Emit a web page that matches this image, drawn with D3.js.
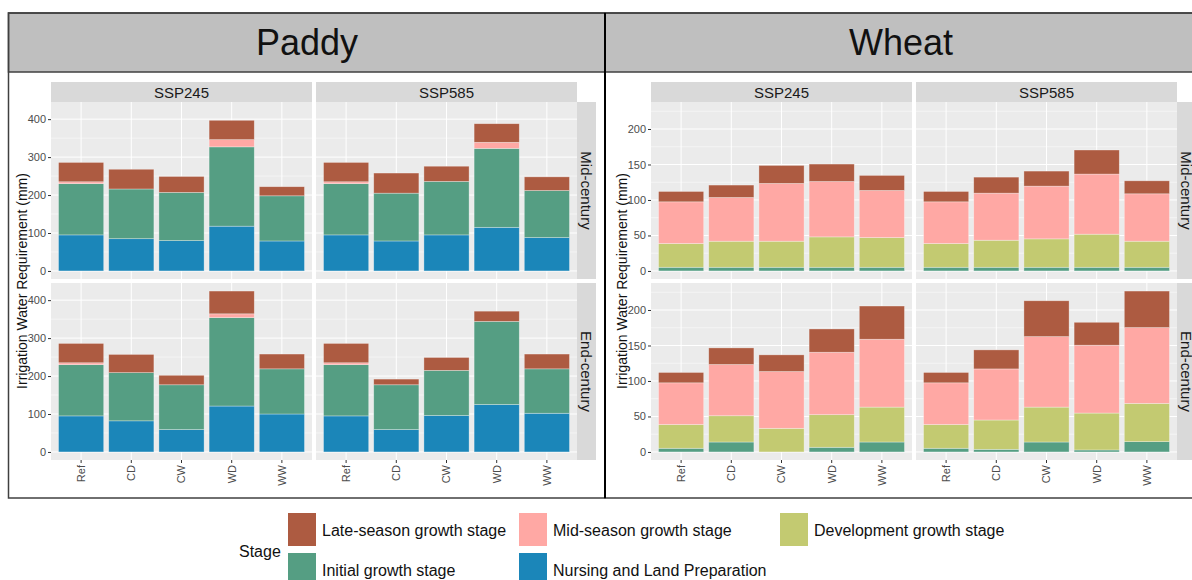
<!DOCTYPE html>
<meta charset="utf-8">
<html>
<head>
<style>
  body { margin: 0; background: #fff; }
  text { font-family: "Liberation Sans", Arial, sans-serif; }
  .tick text { fill: #4d4d4d; font-size: 11px; }
  .tick line { stroke: #333; }
  .domain { display: none; }
</style>
</head>
<body>
<svg width="1192" height="580"></svg>
<script src="https://d3js.org/d3.v7.min.js"></script>
<script>

// categories
const scenarios = ["Ref", "CD", "CW", "WD", "WW"];
const stages = ["Nursing and Land Preparation", "Initial growth stage", "Development growth stage",
                "Mid-season growth stage", "Late-season growth stage"];
const stageColors = ["#1b86b9", "#559e83", "#c3ca71", "#ffa8a4", "#ad5b41"];
const ssps = ["SSP245", "SSP585"];
const periods = ["Mid-century", "End-century"];

// each row = one scenario (Ref, CD, CW, WD, WW)
// values: [nursing, initial, development, mid-season, late-season] in mm
const paddy245Mid = [[95, 135, 0, 5, 51], [85, 131, 0, 0, 52], [80, 127, 0, 0, 42], [118, 209, 0, 19, 51], [79, 119, 0, 0, 24]];
const paddy585Mid = [[95, 135, 0, 5, 51], [79, 126, 0, 0, 53], [95, 141, 0, 0, 40], [115, 208, 0, 16, 49], [88, 124, 0, 0, 36]];
const paddy245End = [[95, 135, 0, 5, 51], [82, 127, 0, 0, 48], [59, 118, 0, 0, 25], [121, 233, 0, 10, 60], [100, 119, 0, 0, 39]];
const paddy585End = [[95, 135, 0, 5, 51], [59, 118, 0, 0, 15], [96, 119, 0, 0, 34], [125, 219, 0, 0, 27], [102, 117, 0, 0, 39]];

const wheat245Mid = [[0, 5.2, 33.4, 58.8, 14.6], [0, 5.2, 36.7, 61.6, 17.5], [0, 5.2, 36.7, 81.4, 25.4], [0, 5.2, 42.8, 78, 24.6], [0, 5.2, 41.8, 66.4, 21.2]];
const wheat585Mid = [[0, 5.2, 33.4, 58.8, 14.6], [0, 5.2, 38.1, 66.3, 22.6], [0, 5.2, 40, 74.3, 21.2], [0, 5.2, 46.6, 84.7, 33.9], [0, 5.2, 36.7, 66.8, 18.3]];
const wheat245End = [[0, 5.2, 33.4, 58.8, 14.6], [0, 14, 37, 72.2, 23.4], [0, 0, 33.3, 80, 23.5], [0, 6.6, 45.9, 88, 32.8], [0, 14, 49.2, 95.6, 46.8]];
const wheat585End = [[0, 5.2, 33.4, 58.8, 14.6], [0, 3.7, 41.3, 72, 26.8], [0, 14, 49.2, 99.3, 50.5], [0, 2.8, 52, 95.6, 32.3], [0, 14.5, 53.9, 106.8, 51.5]];

// tick labels
const paddyTicks = [0, 100, 200, 300, 400];
const wheatTicks = [0, 50, 100, 150, 200];

const svg = d3.select("svg");

// layout (ggplot-ish facet grid)
const stripTop = 82, stripH = 20;
const rowTops = [102, 283], rowH = 177;
const colLefts = [51, 316], colW = 261;
const sideStripX = 577, sideStripW = 19;

function drawCrop(title, ox, frameX, grid, ticks) {
  const g = svg.append("g").attr("transform", `translate(${ox},0)`);
  const fx = frameX - ox, fw = 605 - 8.5;

  // grey title band
  g.append("rect").attr("x", fx).attr("y", 13).attr("width", fw).attr("height", 59)
    .attr("fill", "#bfbfbf").attr("stroke", "#404040").attr("stroke-width", 1.5);
  g.append("text").attr("x", 307 - (ox ? 6 : 0)).attr("y", 42).attr("text-anchor", "middle")
    .attr("dominant-baseline", "central").attr("font-size", 36).attr("fill", "#111").text(title);

  const yMax = d3.max(grid.flat(), rows => d3.max(rows, r => d3.sum(r)));
  const domain = [-0.05 * yMax, 1.05 * yMax];
  const step = ticks[1] - ticks[0];
  const minor = d3.range(step / 2, domain[1], step);

  const stack = d3.stack().keys(d3.range(stages.length)).value((d, k) => d[k]);

  periods.forEach((period, ri) => {
    const y = d3.scaleLinear().domain(domain).range([rowTops[ri] + rowH, rowTops[ri]]);

    ssps.forEach((ssp, ci) => {
      const x = d3.scaleBand().domain(scenarios)
        .range([colLefts[ci], colLefts[ci] + colW]).paddingInner(0.1).paddingOuter(0.15);
      const p = g.append("g");

      p.append("rect").attr("x", colLefts[ci]).attr("y", rowTops[ri])
        .attr("width", colW).attr("height", rowH).attr("fill", "#ebebeb");

      p.selectAll(".minor").data(minor).join("line")
        .attr("x1", colLefts[ci]).attr("x2", colLefts[ci] + colW)
        .attr("y1", d => y(d)).attr("y2", d => y(d))
        .attr("stroke", "#fff").attr("stroke-width", 0.5);
      p.selectAll(".major").data(ticks).join("line")
        .attr("x1", colLefts[ci]).attr("x2", colLefts[ci] + colW)
        .attr("y1", d => y(d)).attr("y2", d => y(d))
        .attr("stroke", "#fff").attr("stroke-width", 1);
      p.selectAll(".vgrid").data(scenarios).join("line")
        .attr("x1", d => x(d) + x.bandwidth() / 2).attr("x2", d => x(d) + x.bandwidth() / 2)
        .attr("y1", rowTops[ri]).attr("y2", rowTops[ri] + rowH)
        .attr("stroke", "#fff").attr("stroke-width", 1);

      const rows = grid[ci][ri];
      const series = stack(rows);
      p.selectAll(".layer").data(series).join("g")
        .attr("fill", (d, i) => stageColors[i])
        .selectAll("rect").data(d => d.map((v, j) => ({ v, j }))).join("rect")
        .filter(d => d.v[1] - d.v[0] > 0)
        .attr("x", d => x(scenarios[d.j]))
        .attr("width", x.bandwidth())
        .attr("y", d => y(d.v[1]))
        .attr("height", d => y(d.v[0]) - y(d.v[1]))
        .attr("stroke", "rgba(255,255,255,0.45)").attr("stroke-width", 0.7);

      // top strip
      if (ri === 0) {
        g.append("rect").attr("x", colLefts[ci]).attr("y", stripTop).attr("width", colW)
          .attr("height", stripH).attr("fill", "#d9d9d9");
        g.append("text").attr("x", colLefts[ci] + colW / 2).attr("y", stripTop + stripH / 2)
          .attr("text-anchor", "middle").attr("dominant-baseline", "central")
          .attr("font-size", 15).attr("fill", "#1a1a1a").text(ssp);
      }
      // y axis
      if (ci === 0) {
        g.append("g").attr("transform", `translate(${colLefts[0]},0)`)
          .call(d3.axisLeft(y).tickValues(ticks).tickSize(3).tickPadding(2));
      }
      // x axis
      if (ri === 1) {
        const ax = g.append("g").attr("transform", `translate(0,${rowTops[1] + rowH})`)
          .call(d3.axisBottom(x).tickSize(3).tickPadding(2));
        ax.selectAll("text").attr("font-size", 10).attr("text-anchor", "end")
          .attr("transform", "rotate(-90)").attr("x", -5).attr("y", 0).attr("dy", "0.35em");
      }
    });

    // side strip (the wheat one runs off the right edge, as in the original)
    g.append("rect").attr("x", sideStripX).attr("y", rowTops[ri]).attr("width", sideStripW)
      .attr("height", rowH).attr("fill", "#d9d9d9");
    g.append("text").attr("transform", `translate(${sideStripX + sideStripW / 2},${rowTops[ri] + rowH / 2}) rotate(90)`)
      .attr("text-anchor", "middle").attr("dominant-baseline", "central")
      .attr("font-size", 15).attr("fill", "#1a1a1a").text(period);
  });

  g.append("text").attr("transform", `translate(22,${(rowTops[0] + rowTops[1] + rowH) / 2}) rotate(-90)`)
    .attr("text-anchor", "middle").attr("dominant-baseline", "central")
    .attr("font-size", 14).attr("fill", "#111").text("Irrigation Water Requirement (mm)");

  // panel border
  g.append("rect").attr("x", fx).attr("y", 13).attr("width", fw).attr("height", 485)
    .attr("fill", "none").attr("stroke", "#404040").attr("stroke-width", 1.5);
}

drawCrop("Paddy", 0, 8.5, [[paddy245Mid, paddy245End], [paddy585Mid, paddy585End]], paddyTicks);
drawCrop("Wheat", 600, 605, [[wheat245Mid, wheat245End], [wheat585Mid, wheat585End]], wheatTicks);

svg.append("line").attr("x1", 605).attr("x2", 605).attr("y1", 13).attr("y2", 498)
  .attr("stroke", "#000").attr("stroke-width", 2);

// legend
const legendOrder = [4, 3, 2, 1, 0];
const legendPos = [[288, 513], [519, 513], [780, 513], [288, 553], [519, 553]];
const leg = svg.append("g");
leg.append("text").attr("x", 239).attr("y", 551).attr("dominant-baseline", "central")
  .attr("font-size", 16).attr("fill", "#111").text("Stage");
legendOrder.forEach((si, i) => {
  const [lx, ly] = legendPos[i];
  leg.append("rect").attr("x", lx).attr("y", ly).attr("width", 28).attr("height", 33)
    .attr("fill", stageColors[si]);
  leg.append("text").attr("x", lx + 34).attr("y", ly + 17).attr("dominant-baseline", "central")
    .attr("font-size", 16).attr("fill", "#111").text(stages[si]);
});

</script>
</body>
</html>
